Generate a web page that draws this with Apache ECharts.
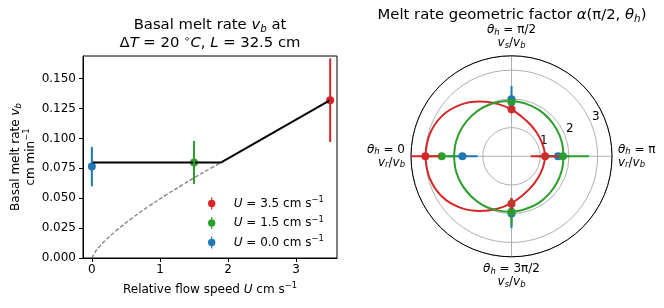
<!DOCTYPE html>
<html><head><meta charset="utf-8">
<script src="https://cdn.jsdelivr.net/npm/echarts@6/dist/echarts.min.js"></script>
<style>html,body{margin:0;padding:0;background:#fff}#c{width:664px;height:308px}</style>
</head><body><div id="c"></div>
<script>
// ---------- left panel: basal melt rate ----------
const flowSpeed = [0.0, 1.5, 3.5];
const meltRate  = [0.0765, 0.080, 0.132];
const meltErr   = [0.0165, 0.018, 0.035];
const runLabels = ['0.0', '1.5', '3.5'];
const modelU = [0, 1.9, 3.5];
const modelV = [0.080, 0.080, 0.132];
const turbU = [0, 0.05, 0.1, 0.2, 0.35, 0.6, 0.84, 1.1, 1.33, 1.55, 1.74, 1.9];
const turbV = [0, 0.0052, 0.0088, 0.0148, 0.0225, 0.0337, 0.0434, 0.0531, 0.0612, 0.0687, 0.0749, 0.080];
const xTicks = [0, 1, 2, 3];
const yTicks = [0, 0.025, 0.05, 0.075, 0.1, 0.125, 0.15];

// ---------- right panel: geometric factor (polar) ----------
const curveAngles = [0,15,30,45,60,75,90,105,120,135,150,165,180,195,210,225,240,255,270,285,300,315,330,345,360];
const redCurve   = [3.00,2.95,2.80,2.53,2.20,1.89,1.63,1.42,1.29,1.21,1.17,1.16,1.17,1.16,1.17,1.21,1.29,1.42,1.63,1.89,2.20,2.53,2.80,2.95,3.00];
const greenCurve = [2.00,2.00,1.99,1.98,1.97,1.95,1.93,1.90,1.88,1.85,1.83,1.82,1.81,1.82,1.83,1.85,1.88,1.90,1.93,1.95,1.97,1.98,1.99,2.00,2.00];
const dotAngles = [0, 90, 180, 270];
const blueDots  = [1.71, 1.99, 1.62, 1.99];
const blueErr   = [0.53, 0.46, 0.40, 0.52];
const greenDots = [2.43, 1.88, 1.79, 1.93];
const greenErr  = [0.50, 0.12, 0.91, 0.46];
const redDots   = [3.00, 1.64, 1.17, 1.65];
const redErr    = [0.50, 0.15, 0.50, 0.20];
const rTicks = [1, 2, 3];
const rTickLabels = ['1', '2', '3'];
const angleTicks = [0, 90, 180, 270];
const angleTickValue = ['0', 'π/2', 'π', '3π/2'];
const angleTickComp  = ['r', 's', 'r', 's'];

const COL = ['#1f77b4', '#2ca02c', '#d62728'];
const F = 'DejaVu Sans';
function rich(fs, lh) {
  const sub = Math.round(fs * 0.7 * 10) / 10;
  return {
    n:  {fontFamily: F, fontSize: fs, lineHeight: lh, color: '#000'},
    i:  {fontFamily: F, fontSize: fs, lineHeight: lh, color: '#000', fontStyle: 'italic'},
    s:  {fontFamily: F, fontSize: sub, lineHeight: sub + 1, color: '#000', fontStyle: 'italic', verticalAlign: 'bottom'},
    p:  {fontFamily: F, fontSize: sub, lineHeight: sub + 1, color: '#000', verticalAlign: 'top'},
    sp: {width: 13, lineHeight: lh}
  };
}
const R12 = rich(12, 15);
const RA = rich(12, 13);
const R14 = rich(14.8, 18);

const series = [];
// dashed curve
series.push({type: 'line', xAxisIndex: 0, yAxisIndex: 0, data: turbU.map((u, i) => [u, turbV[i]]),
  smooth: true, symbol: 'none', silent: true,
  lineStyle: {color: '#808080', width: 1.3, type: [4, 2]}});
// model line
series.push({type: 'line', xAxisIndex: 0, yAxisIndex: 0, data: modelU.map((u, i) => [u, modelV[i]]),
  symbol: 'none', silent: true, lineStyle: {color: '#000', width: 2}});
// error bars + dots
flowSpeed.forEach((u, i) => {
  series.push({type: 'line', xAxisIndex: 0, yAxisIndex: 0, symbol: 'none', silent: true,
    data: [[u, meltRate[i] - meltErr[i]], [u, meltRate[i] + meltErr[i]]],
    lineStyle: {color: COL[i], width: 2}});
  series.push({type: 'scatter', name: 'U' + runLabels[i], xAxisIndex: 0, yAxisIndex: 0,
    symbol: 'circle', symbolSize: 8, data: [[u, meltRate[i]]], itemStyle: {color: COL[i], opacity: 1}});
});

// polar curves
[[redCurve, COL[2]], [greenCurve, COL[1]]].forEach(([arr, c]) => {
  series.push({type: 'line', coordinateSystem: 'polar', polarIndex: 0, symbol: 'none', smooth: 0.4, silent: true,
    data: arr.map((r, k) => [r, curveAngles[k]]), lineStyle: {color: c, width: 2}});
});
[[blueDots, blueErr, COL[0]], [greenDots, greenErr, COL[1]], [redDots, redErr, COL[2]]].forEach(([d, e, c]) => {
  dotAngles.forEach((a, k) => {
    series.push({type: 'line', coordinateSystem: 'polar', polarIndex: 0, symbol: 'none', silent: true,
      data: [[Math.max(0, d[k] - e[k]), a], [d[k] + e[k], a]], lineStyle: {color: c, width: 2}});
  });
  series.push({type: 'scatter', coordinateSystem: 'polar', polarIndex: 0, symbolSize: 8,
    data: d.map((r, k) => [r, dotAngles[k]]), itemStyle: {color: c, opacity: 1}});
});

const errIcon = 'path://M3.4,0L4.6,0L4.6,12L3.4,12Z M4,2.3A3.7,3.7,0,1,1,4,9.7A3.7,3.7,0,1,1,4,2.3Z';

const option = {
  animation: false,
  backgroundColor: '#fff',
  grid: [{left: 83, top: 56, width: 254, height: 202, show: true, borderColor: '#000', borderWidth: 1, backgroundColor: 'transparent'}],
  xAxis: [{type: 'value', gridIndex: 0, min: -0.13, max: 3.6,
    axisLine: {onZero: false, lineStyle: {color: '#000', width: 1}},
    axisTick: {length: 4, lineStyle: {color: '#000'}, customValues: xTicks},
    axisLabel: {margin: 6, color: '#000', fontFamily: F, fontSize: 12, customValues: xTicks, formatter: v => String(v)},
    splitLine: {show: false},
    name: '{n|Relative flow speed }{i|U}{n| cm s}{p|−1}', nameLocation: 'middle', nameGap: 24,
    nameTextStyle: {rich: R12}}],
  yAxis: [{type: 'value', gridIndex: 0, min: 0, max: 0.169,
    axisLine: {onZero: false, lineStyle: {color: '#000', width: 1}},
    axisTick: {length: 4, lineStyle: {color: '#000'}, customValues: yTicks},
    axisLabel: {margin: 7, color: '#000', fontFamily: F, fontSize: 12, customValues: yTicks, formatter: v => v.toFixed(3)},
    splitLine: {show: false},
    name: '{n|Basal melt rate }{i|v}{s|b}\n{n|cm min}{p|−1}', nameLocation: 'middle', nameGap: 45,
    nameTextStyle: {rich: R12, align: 'center'}}],
  polar: [{center: [511.5, 156.3], radius: 100.5}],
  angleAxis: [{polarIndex: 0, type: 'value', min: 0, max: 360, interval: 90, startAngle: 180, clockwise: true,
    axisLine: {lineStyle: {color: '#000', width: 1}},
    axisTick: {show: false},
    splitLine: {lineStyle: {color: '#b0b0b0', width: 1}},
    axisLabel: {margin: 6, rich: RA, formatter: v => {
      const k = angleTicks.indexOf(v);
      if (k < 0 || v === 360) return '';
      return '{i|θ}{s|h}{n| = ' + angleTickValue[k] + '}\n{i|v}{s|' + angleTickComp[k] + '}{n|/}{i|v}{s|b}';
    }}}],
  radiusAxis: [{polarIndex: 0, type: 'value', min: 0, max: 3.5, interval: 1,
    axisLine: {show: false}, axisTick: {show: false}, axisLabel: {show: false},
    splitLine: {lineStyle: {color: '#b0b0b0', width: 1}}}],
  legend: {orient: 'vertical', left: 208, top: 196, itemWidth: 8, itemHeight: 12, itemGap: 6, padding: 0,
    selectedMode: false, icon: errIcon,
    data: ['U3.5', 'U1.5', 'U0.0'],
    formatter: name => '{sp|}{i|U}{n| = ' + name.slice(1) + ' cm s}{p|−1}',
    textStyle: {rich: R12}},
  series: series
};

const chart = echarts.init(document.getElementById('c'), null, {renderer: 'canvas'});
chart.setOption(option);

const graphics = [
  {type: 'text', x: 210, y: 16, silent: true, style: {
    text: '{n|Basal melt rate }{i|v}{s|b}{n| at}\n{n|Δ}{i|T}{n| = 20 }{p|∘}{i|C}{n|, }{i|L}{n| = 32.5 cm}',
    rich: R14, align: 'center', verticalAlign: 'top'}},
  {type: 'text', x: 512, y: 6, silent: true, style: {
    text: '{n|Melt rate geometric factor }{i|α}{n|(π/2, }{i|θ}{s|h}{n|)}',
    rich: R14, align: 'center', verticalAlign: 'top'}}
];
rTicks.forEach((v, k) => {
  const p = chart.convertToPixel({polarIndex: 0}, [v + 0.24, 155]);
  if (p) graphics.push({type: 'text', x: p[0], y: p[1], silent: true,
    style: {text: rTickLabels[k], fontFamily: F, fontSize: 12, fill: '#000', align: 'center', verticalAlign: 'middle'}});
});
chart.setOption({graphic: graphics});
</script>
</body></html>
